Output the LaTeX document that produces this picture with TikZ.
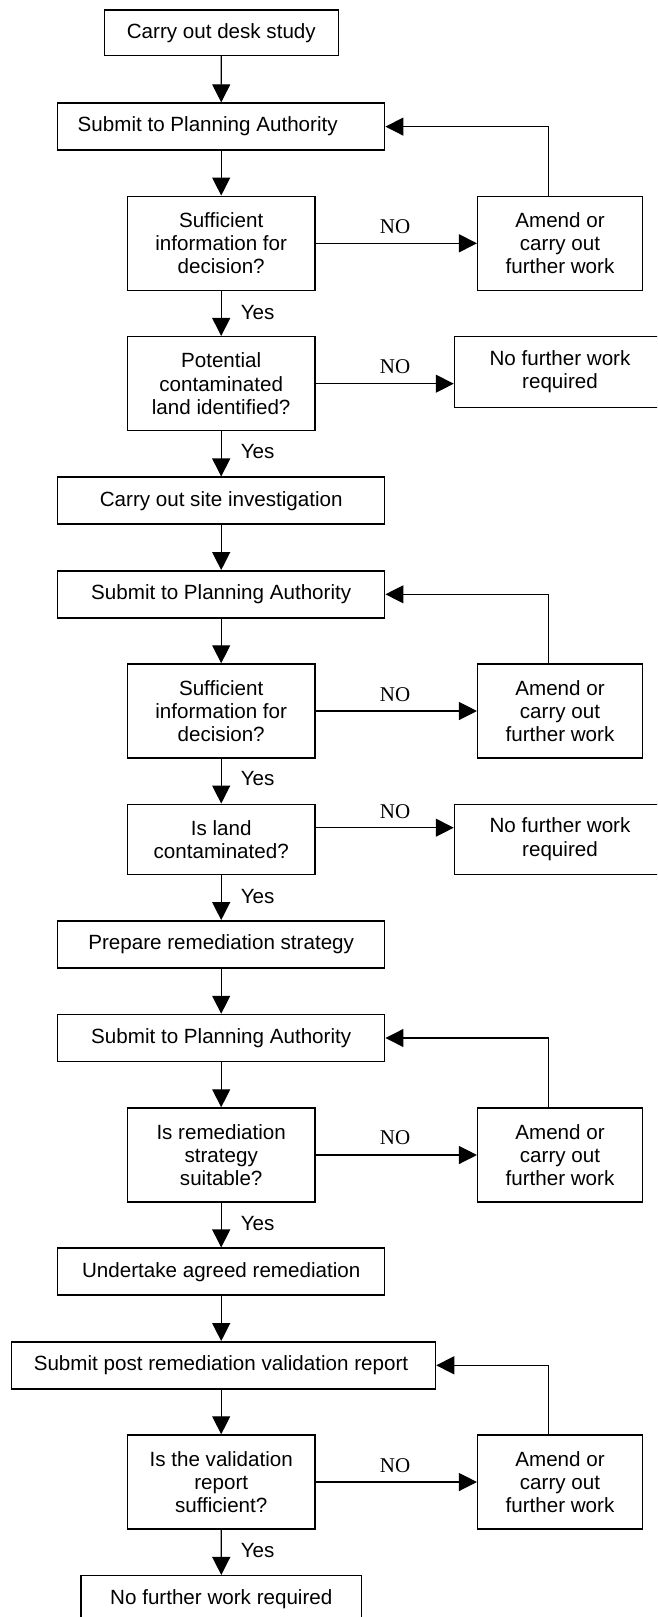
\documentclass[tikz,border=0pt]{standalone}
\usepackage{fontspec}
\setmainfont{Liberation Sans}
\newfontfamily\serf{Liberation Serif}
\usetikzlibrary{arrows.meta}
\tikzset{
  box/.style={draw, line width=1.5pt, inner sep=0pt, align=center,
    font=\fontsize{20.6}{23.3}\selectfont, minimum height=47pt},
  stepbox/.style={box, minimum width=327pt},
  decbox/.style={box, minimum width=187.6pt, minimum height=94pt},
  amendbox/.style={box, minimum width=164.6pt, minimum height=94pt},
  nfbox/.style={box, minimum width=211pt, minimum height=70.6pt},
  conn/.style={line width=1.2pt, -{Triangle[length=18pt,width=18pt]}},
  nolab/.style={inner sep=0pt, font=\serf\fontsize{21}{23}\selectfont},
  yeslab/.style={inner sep=0pt, font=\fontsize{20.6}{23.3}\selectfont}
}
\begin{document}
\begin{tikzpicture}[x=1pt,y=-1pt]
\useasboundingbox (0,0) rectangle (657,1617);
\clip (0,0) rectangle (657,1617);
\fill[white] (0,0) rectangle (657,1617);

% nodes
\node[box, minimum width=234pt, minimum height=45.5pt] (b1) at (221.3,32.7) {Carry out desk study};
\node[stepbox] (s1) at (221.2,126.6) {\hspace*{-27pt}Submit to Planning Authority};
\node[decbox] (d1) at (221.2,243.3) {Sufficient\\information for\\decision?};
\node[amendbox] (a1) at (560,243.3) {Amend or\\carry out\\further work};
\node[decbox] (d2) at (221.2,383.7) {Potential\\contaminated\\land identified?};
\node[nfbox] (n1) at (560,372) {No further work\\required};
\node[stepbox] (site) at (221.2,500.7) {Carry out site investigation};
\node[stepbox] (s2) at (221.2,594.3) {Submit to Planning Authority};
\node[decbox] (d3) at (221.2,711) {Sufficient\\information for\\decision?};
\node[amendbox] (a2) at (560,711) {Amend or\\carry out\\further work};
\node[decbox, minimum height=70pt] (d4) at (221.2,839.3) {Is land\\contaminated?};
\node[nfbox, minimum height=70pt] (n2) at (560,839.3) {No further work\\required};
\node[stepbox] (prep) at (221.2,944.3) {Prepare remediation strategy};
\node[stepbox] (s3) at (221.2,1038) {Submit to Planning Authority};
\node[decbox] (d5) at (221.2,1155) {Is remediation\\strategy\\suitable?};
\node[amendbox] (a3) at (560,1155) {Amend or\\carry out\\further work};
\node[stepbox] (und) at (221.2,1271.7) {Undertake agreed remediation};
\node[box, minimum width=424pt] (s4) at (223.5,1365.3) {\hspace*{-5pt}Submit post remediation validation report};
\node[decbox] (d6) at (221.2,1482) {Is the validation\\report\\sufficient?};
\node[amendbox] (a4) at (560,1482) {Amend or\\carry out\\further work};
\node[box, minimum width=280.7pt] (fin) at (221.3,1599.2) {No further work required};

% labels
\node[nolab] (no1) at (395,226.7) {NO};
\node[nolab] (no2) at (395,366.7) {NO};
\node[nolab] (no3) at (395,694.3) {NO};
\node[nolab] (no4) at (395,811.7) {NO};
\node[nolab] (no5) at (395,1138) {NO};
\node[nolab] (no6) at (395,1465.7) {NO};
\node[yeslab] (y1) at (257.6,312.3) {Yes};
\node[yeslab] (y2) at (257.6,451.7) {Yes};
\node[yeslab] (y3) at (257.6,778.3) {Yes};
\node[yeslab] (y4) at (257.6,896.7) {Yes};
\node[yeslab] (y5) at (257.6,1223.3) {Yes};
\node[yeslab] (y6) at (257.6,1550) {Yes};

% main flow
\draw[conn] (b1.south) -- (s1.north);
\draw[conn] (s1.south) -- (d1.north);
\draw[conn] (d1.south) -- (d2.north);
\draw[conn] (d2.south) -- (site.north);
\draw[conn] (site.south) -- (s2.north);
\draw[conn] (s2.south) -- (d3.north);
\draw[conn] (d3.south) -- (d4.north);
\draw[conn] (d4.south) -- (prep.north);
\draw[conn] (prep.south) -- (s3.north);
\draw[conn] (s3.south) -- (d5.north);
\draw[conn] (d5.south) -- (und.north);
\draw[conn] (und.south) -- (und.south |- s4.north);
\draw[conn] (s4.south -| d6.north) -- (d6.north);
\draw[conn] (d6.south) -- (fin.north);

% NO branches
\draw[conn] (d1.east) -- (a1.west);
\draw[conn] (d2.east) -- (d2.east -| n1.west);
\draw[conn] (d3.east) -- (a2.west);
\draw[conn] ([yshift=11.6pt]d4.east) -- ([yshift=11.6pt]d4.east -| n2.west);
\draw[conn] (d5.east) -- (a3.west);
\draw[conn] (d6.east) -- (a4.west);

% loops back
\draw[conn] ([xshift=-11.6pt]a1.north) |- (s1.east);
\draw[conn] ([xshift=-11.6pt]a2.north) |- (s2.east);
\draw[conn] ([xshift=-11.6pt]a3.north) |- (s3.east);
\draw[conn] ([xshift=-11.6pt]a4.north) |- (s4.east);
\end{tikzpicture}
\end{document}
